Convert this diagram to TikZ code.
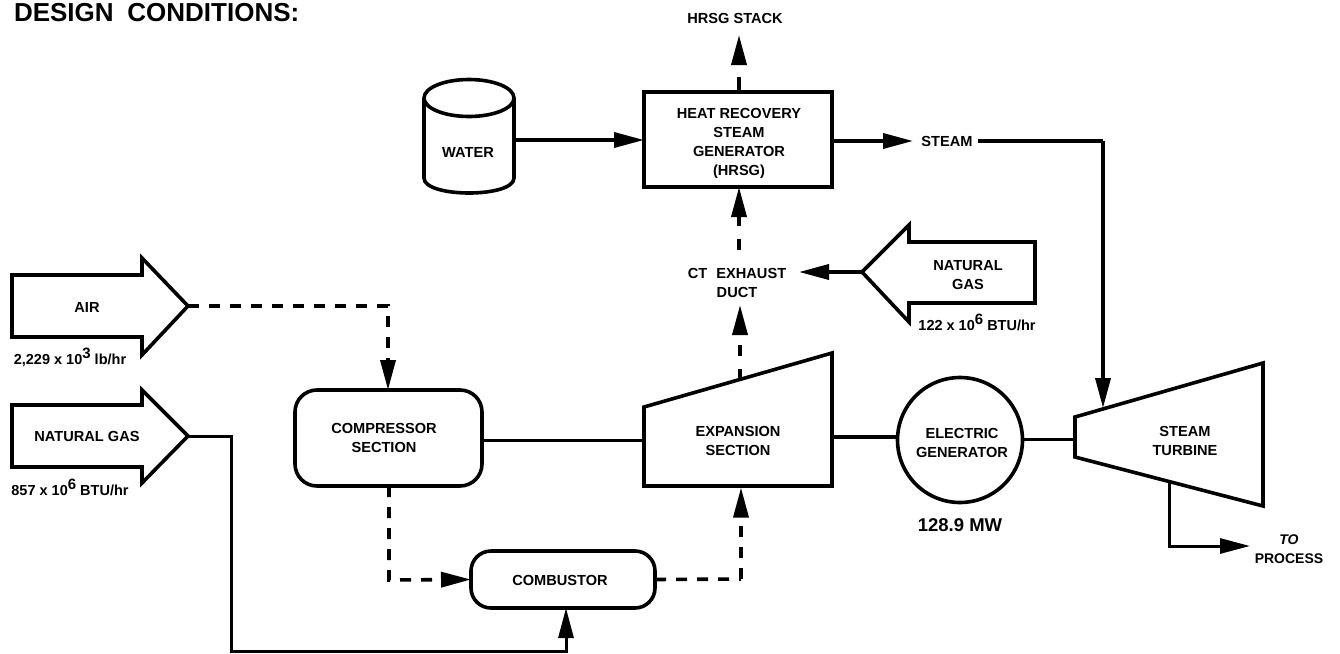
\documentclass[tikz,border=0pt]{standalone}
\usepackage{fontspec}
\setmainfont{Liberation Sans}
\usetikzlibrary{arrows.meta}
\newcommand{\supr}[1]{\raisebox{.42em}{\fontsize{15}{15}\selectfont #1}}
\tikzset{
  thick line/.style={line width=3.6pt,line join=miter},
  thin line/.style={line width=3pt},
  flow/.style={thin line,-{Triangle[length=30pt,width=15pt]}},
  dflow/.style={flow,line width=3.6pt,dash pattern=on 11pt off 10pt},
  dline/.style={thick line,dash pattern=on 11pt off 10pt},
  lab/.style={font=\bfseries\fontsize{14.6}{19}\selectfont,align=center,inner sep=0pt,outer sep=0pt},
  small/.style={font=\bfseries\fontsize{14.5}{16}\selectfont,inner sep=0pt,outer sep=0pt},
  box/.style={draw,thick line,inner sep=0pt,outer sep=0pt},
}
\begin{document}
\begin{tikzpicture}[x=1pt,y=-1pt]
\useasboundingbox (0,0) rectangle (1340,653);
\fill[white] (0,0) rectangle (1340,653);

\node[lab,font=\bfseries\fontsize{26}{28}\selectfont,anchor=west] (title) at (14,13) {DESIGN\hspace{.25em} CONDITIONS:};

% block arrows
\draw[thick line] (12,275) -- (142,275) -- (142,258) -- (188,306) -- (142,355) -- (142,337) -- (12,337) -- cycle;
\coordinate (airtip) at (188,306);
\node[lab] (air) at (87,307) {AIR};
\node[small] (airflow) at (70,357) {2,229 x 10\supr{3} lb/hr};

\draw[thick line] (12,405) -- (142,405) -- (142,390) -- (188,436) -- (142,483) -- (142,467) -- (12,467) -- cycle;
\coordinate (gastip) at (188,436);
\node[lab] (gas) at (87,436) {NATURAL GAS};
\node[small] (gasflow) at (70,487) {857 x 10\supr{6} BTU/hr};

\draw[thick line] (1035,242) -- (909,242) -- (909,225) -- (862,272) -- (909,322) -- (909,303) -- (1035,303) -- cycle;
\coordinate (gas2tip) at (862,272);
\node[lab] (gas2) at (968,275) {NATURAL\\GAS};
\node[small] (gas2flow) at (977,322) {122 x 10\supr{6} BTU/hr};

% main boxes
\node[box,rounded corners=22pt,minimum width=187pt,minimum height=96pt] (comp) at (388.5,438) {};
\node[lab] (compt) at (384,438) {COMPRESSOR\\SECTION};
\node[box,rounded corners=20pt,minimum width=184pt,minimum height=57pt] (comb) at (563,579.5) {};
\node[lab] (combt) at (560,580) {COMBUSTOR};
\node[box,minimum width=188pt,minimum height=95pt] (hrsg) at (738,139.5) {};
\node[lab] (hrsgt) at (739,143.5) {HEAT RECOVERY\\STEAM\\GENERATOR\\(HRSG)};
\node[box,circle,minimum size=125pt] (gen) at (960,440) {};
\node[lab] (gent) at (962,443) {ELECTRIC\\GENERATOR};
\node[font=\fontsize{18.5}{20}\selectfont\bfseries,inner sep=0pt] (mw) at (960,525) {128.9 MW};

% expansion
\draw[thick line] (644,407) -- (832,353) -- (832,486) -- (644,486) -- cycle;
\node[lab] (exp) at (738,441) {EXPANSION\\SECTION};
\coordinate (expL) at (644,440);
\coordinate (expR) at (832,437);
\coordinate (expT) at (740,379.5);
\coordinate (expB) at (741,487.6);

% steam turbine
\draw[thick line] (1075,417) -- (1263,363) -- (1263,506) -- (1075,457) -- cycle;
\node[lab] (st) at (1185,441) {STEAM\\TURBINE};
\coordinate (stL) at (1075,439);
\coordinate (stT) at (1103,408);
\coordinate (stB) at (1169,482);

% water tank
\draw[thick line] (424,98) -- (424,178) .. controls (424,198) and (514,198) .. (514,178) -- (514,98);
\draw[thick line] (469,98) circle [x radius=45pt,y radius=18.5pt];
\node[lab] (water) at (468,152) {WATER};
\coordinate (waterR) at (514,140);

% free labels
\node[lab] (stack) at (735,18) {HRSG STACK};
\node[lab] (steam) at (947,141) {STEAM};
\node[lab] (duct) at (737,283) {CT\hspace{.35em} EXHAUST\\DUCT};
\node[lab,font=\bfseries\fontsize{14}{19}\selectfont] (proc) at (1289,549.5) {\textit{TO}\\PROCESS};

% connectors
\coordinate (a1) at (388,306);
\draw[dflow] (airtip) -- (a1) -- (comp.north-|a1);
\coordinate (g1) at (231,436);
\coordinate (g2) at (231,651);
\coordinate (g3) at (566,651);
\draw[flow] (gastip) -- (g1) -- (g2) -- (g3) -- (comb.south-|g3);
\coordinate (c1) at (389,580);
\draw[dflow] (comp.south-|c1) -- (c1) -- (comb.west);
\coordinate (c2) at (741,579);
\draw[dline] (comb.east) -- (c2);
\draw[dflow] (c2) -- (expB);
\draw[thin line] (comp.east|-expL) -- (expL);
\draw[thick line] (expR) -- (gen.west|-expR);
\draw[thin line] (gen.east|-stL) -- (stL);
\draw[flow,line width=3.6pt] (waterR) -- (hrsg.west|-waterR);
\draw[flow,thick line] (hrsg.east|-steam) -- ([xshift=-34pt]steam.center);
\coordinate (s1) at (1103,141);
\draw[thick line] ([xshift=31pt]steam.center) -- (s1);
\draw[flow,thick line] (s1) -- (stT);
\coordinate (o1) at (1169,546);
\coordinate (o2) at (1250,546);
\draw[flow] (stB) -- (o1) -- (o2);
\coordinate (stackTip) at (739,35);
\draw[flow,line width=3.6pt,dash pattern=on 15pt off 30pt] (hrsg.north-|stackTip) -- (stackTip);
\coordinate (ductT) at (739,250);
\draw[flow,line width=3.6pt,dash pattern=on 11pt off 13pt] (ductT) -- (hrsg.south-|ductT);
\coordinate (ductB) at (740,305);
\draw[flow,line width=3.6pt,dash pattern=on 11pt off 13pt] (expT) -- (ductB);
\coordinate (ductR) at (799,272);
\draw[flow,line width=3.6pt] (gas2tip) -- (ductR);
\end{tikzpicture}
\end{document}
